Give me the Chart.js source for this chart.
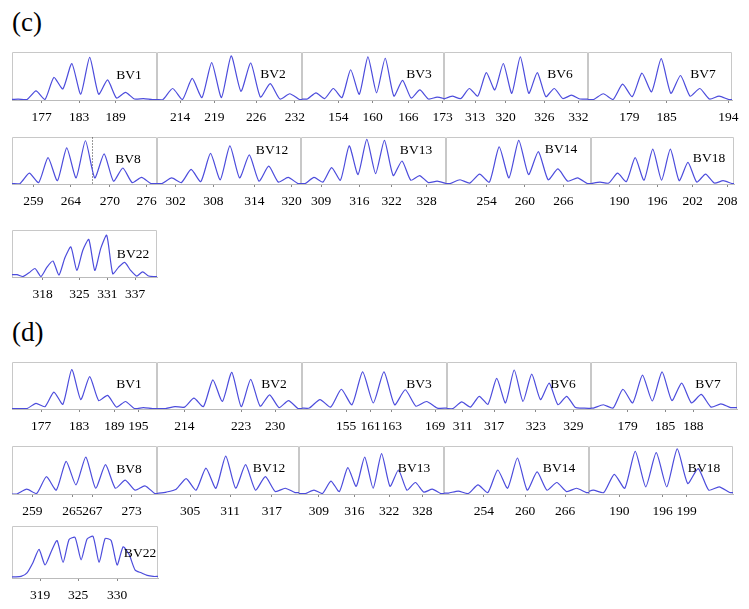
<!DOCTYPE html>
<html><head><meta charset="utf-8">
<script src="https://cdn.jsdelivr.net/npm/chart.js@4.4.0/dist/chart.umd.min.js"></script>
<style>
html,body{margin:0;padding:0;background:#fff;width:749px;height:609px;overflow:hidden;position:relative;}
canvas{position:absolute;}
.sec{position:absolute;font-family:'Liberation Serif',serif;font-size:27px;color:#000;line-height:1;}
</style></head><body>
<div class="sec" style="left:12px;top:9px">(c)</div>
<div class="sec" style="left:12px;top:319px">(d)</div>
<script>
// ---------- (c) ----------
const cNames = ['BV1','BV2','BV3','BV6','BV7','BV8','BV12','BV13','BV14','BV18','BV22'];
const cStart = [-0.48, 0.91, 0.93, -0.04, 0.88, 1.28, 0.77, 0.72, 0.64, 0.03, 0.85];
const cStep  = [1.5, 1.5, 1.5, 1.5, 1.5, 1.5, 1.5, 1.5, 1.5, 1.5, 1];
const cSpan  = [24.3, 22.3, 24.62, 25.4, 22.38, 23.26, 22.26, 24.72, 22.2, 24.38, 24.26];

const cBV1  = [1, 2, 1, 19, 1, 47, 23, 76, 12, 89, 12, 42, 4, 16, 2, 3, 1];
const cBV2  = [1, 24, 1, 45, 5, 78, 5, 92, 18, 77, 6, 34, 2, 13, 1];
const cBV3  = [2, 15, 3, 24, 5, 63, 12, 90, 15, 87, 8, 41, 4, 21, 2, 6, 2];
const cBV6  = [2, 8, 3, 24, 8, 57, 21, 76, 14, 90, 14, 57, 7, 24, 3, 10, 2];
const cBV7  = [1, 13, 1, 33, 7, 56, 17, 86, 14, 51, 8, 24, 2, 8, 1];
const cBV8  = [1, 23, 3, 56, 7, 77, 13, 92, 13, 64, 6, 34, 3, 14, 1];
const cBV12 = [1, 13, 3, 31, 5, 65, 9, 81, 13, 62, 6, 38, 4, 14, 1];
const cBV13 = [1, 14, 4, 35, 8, 81, 20, 95, 22, 93, 18, 49, 8, 18, 3, 6, 1];
const cBV14 = [1, 9, 2, 21, 4, 79, 13, 93, 20, 69, 9, 32, 6, 13, 1];
const cBV18 = [1, 4, 2, 23, 5, 56, 8, 74, 8, 74, 7, 46, 4, 21, 2, 7, 1];
const cBV22 = [5, 1, 9, 18, 1, 21, 34, 4, 41, 64, 14, 57, 80, 14, 61, 89, 7, 21, 31, 14, 2, 11, 2, 1];

const cLbl = [['177','183','189'], ['214','219','226','232'], ['154','160','166','173'], ['313','320','326','332'],
  ['179','185','194'], ['259','264','270','276'], ['302','308','314','320'], ['309','316','322','328'],
  ['254','260','266'], ['190','196','202','208'], ['318','325','331','337']];
const cAt = [[4.98, 11.23, 17.38], [3.54, 8.81, 15.23, 21.22], [6.29, 12.26, 18.43, 24.4], [5.47, 10.89, 17.7, 23.7],
  [6.42, 12.23, 21.8], [3.42, 9.46, 15.72, 21.6], [2.89, 8.7, 15.04, 20.82], [3.41, 9.94, 15.46, 21.43],
  [6.23, 12.09, 17.96], [4.83, 11.3, 17.34, 23.24], [5.13, 11.26, 15.95, 20.58]];
const cMarker = [null, null, null, null, null, 12.88, null, null, null, null, null];

// ---------- (d) ----------
const dNames = ['BV1','BV2','BV3','BV6','BV7','BV8','BV12','BV13','BV14','BV18','BV22'];
const dStart = [1.02, 1.36, 1.03, 1.02, 0.38, 0.74, -0.09, 1.16, 0.68, -0.89, 0.5];
const dStep  = [1.5, 1.5, 1.5, 1.5, 1.5, 1.5, 1.5, 1.5, 1.5, 1.5, 1];
const dSpan  = [24.3, 23.0, 20.4, 24.68, 22.35, 22.08, 21.5, 25.74, 22.08, 20.58, 24.3];

const dBV1  = [1, 1, 12, 5, 36, 10, 84, 20, 69, 18, 29, 4, 16, 1, 3, 1];
const dBV2  = [1, 5, 4, 23, 5, 62, 16, 78, 5, 63, 6, 30, 3, 18, 1];
const dBV3  = [2, 20, 4, 42, 9, 79, 13, 79, 9, 41, 6, 16, 2];
const dBV6  = [1, 15, 4, 27, 10, 65, 13, 83, 16, 74, 20, 55, 9, 27, 3, 2, 1];
const dBV7  = [2, 9, 2, 42, 13, 72, 17, 79, 18, 55, 13, 31, 4, 11, 3];
const dBV8  = [0, 10, 1, 36, 8, 68, 19, 77, 12, 61, 12, 29, 8, 17, 1];
const dBV12 = [1, 4, 10, 32, 8, 54, 12, 79, 12, 61, 8, 36, 5, 12, 3];
const dBV13 = [1, 8, 1, 27, 5, 55, 16, 77, 12, 84, 16, 50, 8, 24, 4, 10, 1];
const dBV14 = [2, 6, 1, 19, 3, 50, 12, 75, 8, 46, 8, 24, 5, 12, 3];
const dBV18 = [1, 8, 3, 41, 12, 89, 15, 86, 15, 94, 22, 53, 8, 15, 3];
const dBV22 = [2, 3, 10, 30, 55, 25, 50, 72, 30, 74, 78, 35, 75, 80, 30, 76, 72, 25, 60, 45, 15, 10, 5, 3];

const dLbl = [['177','183','189','195'], ['214','223','230'], ['155','161','163','169'], ['311','317','323','329'],
  ['179','185','188'], ['259','265','267','273'], ['305','311','317'], ['309','316','322','328'],
  ['254','260','266'], ['190','196','199'], ['319','325','330']];
const dAt = [[4.86, 11.23, 17.15, 21.17], [4.33, 13.33, 18.73], [6.2, 9.67, 12.63, 18.73], [2.69, 8.06, 15.25, 21.65],
  [5.62, 11.33, 15.66], [3.09, 9.18, 12.23, 18.23], [5.0, 11.06, 17.38], [3.55, 9.82, 15.98, 21.89],
  [6.09, 12.34, 18.43], [4.33, 10.53, 13.96], [4.67, 11.0, 17.5]];
const dMarker = [null, null, null, null, null, null, null, null, null, null, null];

const cSeries = [cBV1, cBV2, cBV3, cBV6, cBV7, cBV8, cBV12, cBV13, cBV14, cBV18, cBV22];
const dSeries = [dBV1, dBV2, dBV3, dBV6, dBV7, dBV8, dBV12, dBV13, dBV14, dBV18, dBV22];

// ---------- layout (pixel boxes: left, top, right, baseline, name-x, name-y) ----------
const cBoxes = [
  [12,52,157,100,117,23],[157,52,302,100,116,22],[302,52,444,100,117,22],[444,52,588,100,116,22],[588,52,732,100,115,22],
  [12,137,157,184,116,22],[157,137,301,184,115,13],[301,137,446,184,115,13],[446,137,591,184,115,12],[591,137,734,184,118,21],
  [12,230,157,277,121,24]];
const dBoxes = [
  [12,362,157,409,117,22],[157,362,302,409,117,22],[302,362,447,409,117,22],[447,362,591,409,116,22],[591,362,737,409,117,22],
  [12,446,157,494,117,23],[157,446,299,494,112,22],[299,446,444,494,115,22],[444,446,589,494,115,22],[589,446,733,494,115,22],
  [12,526,158,578,128,27]];

const panelPlugin = {
  id: 'panel',
  beforeDatasetsDraw(chart, args, o) {
    const a = chart.chartArea, ctx = chart.ctx;
    ctx.save();
    ctx.strokeStyle = '#c8c8c8'; ctx.lineWidth = 1;
    ctx.beginPath();
    const l = Math.round(a.left) + 0.5, r = Math.round(a.right) - 0.5, t = Math.round(a.top) + 0.5, b = Math.round(a.bottom);
    ctx.moveTo(l, b); ctx.lineTo(l, t); ctx.lineTo(r, t); ctx.lineTo(r, b);
    ctx.stroke();
    if (o.marker != null) {
      const x = Math.round(chart.scales.x.getPixelForValue(o.marker)) + 0.5;
      ctx.strokeStyle = '#333'; ctx.setLineDash([1, 2]);
      ctx.beginPath(); ctx.moveTo(x, t); ctx.lineTo(x, b); ctx.stroke();
    }
    ctx.restore();
  },
  afterDraw(chart, args, o) {
    const a = chart.chartArea, ctx = chart.ctx;
    ctx.save();
    ctx.fillStyle = '#000';
    ctx.font = '13.5px "Liberation Serif"';
    ctx.textAlign = 'center'; ctx.textBaseline = 'middle';
    ctx.fillText(o.name, a.left + o.lx, a.top + o.ly);
    ctx.restore();
  }
};

function makePanel(box, series, start, step, span, lbls, ats, name, marker) {
  const [L, T, R, B, lx, ly] = box;
  const padX = 22, padT = 3, axisH = 30;
  const w = R - L + 2 * padX, h = (B - T) + padT + axisH;
  const c = document.createElement('canvas');
  c.width = w; c.height = h;
  c.style.left = (L - padX) + 'px'; c.style.top = (T - padT) + 'px';
  c.style.width = w + 'px'; c.style.height = h + 'px';
  document.body.appendChild(c);
  const pts = [];
  if (start > 0) pts.push({x: 0, y: series[0]});
  series.forEach((v, i) => pts.push({x: start + i * step, y: v}));
  const last = start + (series.length - 1) * step;
  if (last < span) pts.push({x: span, y: series[series.length - 1]});
  new Chart(c, {
    type: 'line',
    data: {datasets: [{data: pts, borderColor: '#4c4cdc', borderWidth: 1.2, pointRadius: 0, tension: 0.2, fill: false}]},
    options: {
      responsive: false, animation: false, events: [],
      layout: {padding: {left: padX, right: padX, top: padT, bottom: 0}},
      plugins: {legend: {display: false}, tooltip: {enabled: false},
        panel: {name: name, lx: lx, ly: ly, marker: marker}},
      scales: {
        x: {type: 'linear', min: 0, max: span,
          afterBuildTicks: s => { s.ticks = ats.map(v => ({value: v})); },
          afterFit: s => { s.height = axisH; },
          ticks: {autoSkip: false, maxRotation: 0, minRotation: 0, padding: 6, color: '#000',
            font: {family: 'Liberation Serif', size: 13.5},
            callback: (v, i) => lbls[i]},
          grid: {drawOnChartArea: false, drawTicks: true, tickLength: 3, color: '#888'},
          border: {display: true, color: '#bbb'}},
        y: {display: false, min: 0, max: 100}
      }
    },
    plugins: [panelPlugin]
  });
}

for (let i = 0; i < 11; i++) {
  makePanel(cBoxes[i], cSeries[i], cStart[i], cStep[i], cSpan[i], cLbl[i], cAt[i], cNames[i], cMarker[i]);
  makePanel(dBoxes[i], dSeries[i], dStart[i], dStep[i], dSpan[i], dLbl[i], dAt[i], dNames[i], dMarker[i]);
}
</script>
</body></html>
